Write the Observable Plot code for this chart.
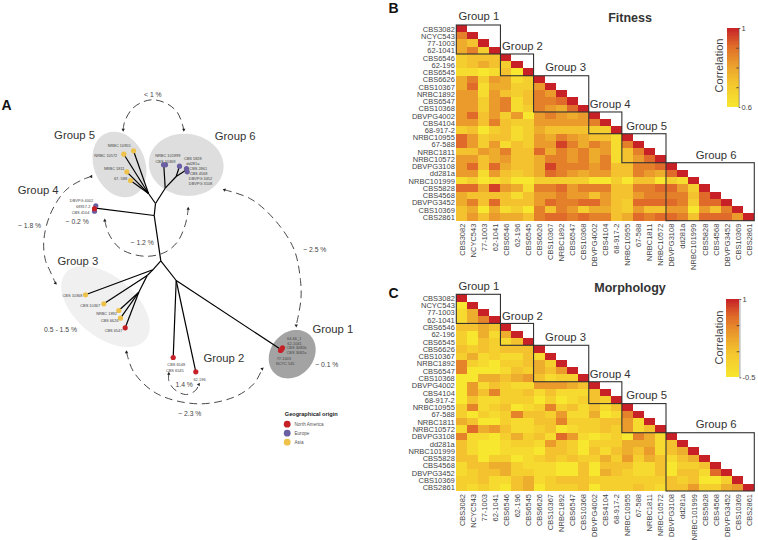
<!DOCTYPE html>
<html>
<head>
<meta charset="utf-8">
<script src="https://cdn.jsdelivr.net/npm/d3@7"></script>
<script src="https://cdn.jsdelivr.net/npm/@observablehq/plot@0.6"></script>
<style>
html,body{margin:0;padding:0;background:#fff}
#root{position:relative;width:758px;height:540px;overflow:hidden}
#root svg{position:absolute;background:transparent}
</style>
</head>
<body>
<div id="root"></div>
<script>
const FONT = "'Liberation Sans', Arial, sans-serif";
const strains = ["CBS3082","NCYC543","77-1003","62-1041","CBS6546","62-196","CBS6545","CBS6626","CBS10367","NRBC1892","CBS6547","CBS10368","DBVPG4002","CBS4104","68-917-2","NRBC10955","67-588","NRBC1811","NRBC10572","DBVPG3108","dd281a","NRBC101999","CBS5828","CBS4568","DBVPG3452","CBS10369","CBS2861"];
const groupNames = ["Group 1","Group 2","Group 3","Group 4","Group 5","Group 6"];
const groupSizes = [4,3,5,3,4,8];

// correlation x 100, lower triangle
const fitnessRows = [
[100],
[87,100],
[78,73,100],
[78,87,69,100],
[69,73,73,73,100],
[69,73,78,73,69,100],
[64,64,60,64,73,60,100],
[78,87,69,82,78,64,69,100],
[78,91,64,78,78,69,69,82,100],
[82,82,64,82,73,69,73,87,82,100],
[82,82,69,82,87,64,73,87,87,91,100],
[82,82,69,82,87,64,69,87,82,78,91,100],
[82,91,73,82,69,82,60,82,87,82,78,82,100],
[82,82,73,87,73,69,69,82,82,82,82,82,87,100],
[69,73,60,69,73,64,69,78,73,73,73,73,69,69,100],
[91,82,69,73,73,64,69,82,78,87,82,78,73,73,64,100],
[91,82,69,82,64,73,69,82,82,96,87,78,87,82,64,87,100],
[73,73,82,78,87,73,73,91,78,87,82,87,78,82,64,73,87,100],
[82,82,73,78,82,73,73,78,87,87,82,87,78,87,64,73,82,91,100],
[82,91,73,91,78,73,73,78,96,87,87,87,82,87,73,73,87,87,91,100],
[82,82,64,82,73,69,73,78,91,87,82,78,82,82,73,73,87,82,78,91,100],
[64,69,60,64,69,60,60,69,69,69,69,69,60,60,69,60,73,73,60,69,64,100],
[91,91,78,96,82,78,64,87,87,91,82,87,87,87,73,73,87,87,91,91,82,69,100],
[78,73,73,73,73,64,73,82,82,87,82,82,73,82,73,73,82,87,87,87,87,73,91,100],
[78,87,73,91,73,73,73,82,91,87,87,91,91,82,73,69,91,91,91,91,87,69,91,91,100],
[73,78,60,78,64,69,60,87,73,87,82,69,78,78,73,69,82,73,73,82,82,60,82,73,87,100],
[73,82,73,82,78,78,73,87,91,91,87,91,87,87,73,78,91,87,91,91,87,73,91,91,91,82,100]
];
const morphologyRows = [
[100],
[-50,100],
[-33,17,100],
[-33,17,50,100],
[0,0,17,0,100],
[-17,-50,17,-33,17,100],
[-17,-50,0,-17,-33,0,100],
[0,-17,0,-17,0,0,0,100],
[-17,17,-33,-17,-33,-33,0,-33,100],
[50,-17,-33,-50,-17,-17,0,17,-17,100],
[50,-50,-50,-50,-33,0,-17,17,0,33,100],
[-50,-50,17,17,0,17,33,0,-33,-17,-17,100],
[-50,33,-33,0,-17,-33,-33,33,33,33,17,0,100],
[-50,33,0,50,-17,-17,0,-33,0,-33,-33,-33,0,100],
[-50,0,-33,-33,-17,-17,-17,-50,-17,-50,-33,-17,0,-17,100],
[-17,50,-33,-17,0,-50,-33,-17,50,-17,0,-33,0,-33,0,100],
[-17,-50,-17,-33,-17,50,0,0,-17,33,-33,-33,17,-50,-33,50,100],
[17,0,-50,-50,-17,-33,-33,0,0,50,-17,-17,-17,0,0,33,-33,100],
[-33,67,17,33,0,-33,-33,-17,0,-50,-33,-17,-17,0,-17,33,-33,0,100],
[50,-33,-33,-50,-17,17,-17,0,-33,67,33,-33,-50,-33,-17,-50,50,17,-33,100],
[0,-33,-50,-50,-33,-17,-17,-33,33,0,-17,-50,-17,-17,-17,17,17,17,-33,0,100],
[0,-33,-50,-50,-33,-33,-33,-50,0,0,-17,-50,0,-33,0,17,0,33,-33,0,17,100],
[0,0,-50,-17,-17,-50,-33,-17,0,-17,0,-17,-17,17,-17,33,-17,17,0,-33,0,17,100],
[-33,0,0,17,17,-17,-33,-33,-33,-50,-50,0,-50,0,0,0,-33,-33,0,-50,-17,-17,0,100],
[-33,-17,0,0,17,-17,-17,-33,-33,-50,-50,0,-50,17,0,-17,-33,-33,0,-50,0,0,-33,67,100],
[-17,-17,0,-33,-33,0,17,-33,-17,0,0,0,-17,-17,-17,-17,-17,-17,-17,0,-17,0,-50,-50,-17,100],
[-17,-33,-17,-33,-50,0,17,-50,-17,-17,-17,0,-50,-17,-17,-17,0,-17,-33,0,0,33,-17,-17,17,33,100]
];

// Panel A: schematic tree, in the figure's own units
const branches = [
[155,203,148,193],[148,193,133,150.3],[148,193,123.3,153.7],[148,193,126.3,171.3],[148,193,130,180],
[155,203,164.7,187.7],[164.7,187.7,163.3,164.3],[164.7,187.7,175.7,176],[175.7,176,179,165.7],[175.7,176,186,169.3],[186,169.3,186.7,171.3],
[155,203,153.7,215],[153.7,215,160.3,260.3],[153.7,215,95,207.7],
[160.3,260.3,152.3,269.3],[152.3,269.3,85,294.3],[152.3,269.3,146.7,275],[146.7,275,103.3,303.3],[146.7,275,138.3,291.7],
[138.3,291.7,118.3,310],[138.3,291.7,120,317.7],[138.3,291.7,124.7,327.3],
[160.3,260.3,175.7,280],[175.7,280,172.7,357],[175.7,280,195.3,371.3],[175.7,280,279.3,348.3]
];
const tips = [
[133,150.3,"Asia"],[123.3,153.7,"Asia"],[126.3,171.3,"Asia"],[130,180,"Asia"],
[163,164.3,"Europe"],[165,164.3,"Europe"],[179,165.7,"Europe"],[186,168,"Europe"],[186.7,171.3,"Europe"],
[95.3,205.3,"Europe"],[94,210.7,"Europe"],[94,208.2,"North America"],
[85,294.3,"Asia"],[103.3,303.3,"Asia"],[118.3,310,"Asia"],[120,317.7,"Asia"],[124.7,327.3,"North America"],
[172.7,357,"North America"],[195.3,371.3,"North America"],
[282,347.3,"North America"],[280,350,"North America"],[281,349,"North America"]
];
const tipLabels = [
["NRBC 10955",118.7,145],["NRBC 10572",105.3,155.7],["NRBC 1811",113.7,168.7],["67- 588",120,178.3],
["NRBC 101999",167.3,155],["CBS 10369",165,161],["CBS 5828",192.3,158],["dd281a",192.3,163.3],["CBS 2861",197.7,168],["CBS 4568",198,173],["DBVPG 3452",200,178],["DBVPG 3108",200,183.3],
["DBVPG 4002",81,200.7],["68917-2",82.7,206.7],["CBS 4104",80,212],
["CBS 10368",72,295.7],["CBS 10367",89.7,305.7],["NRBC 1892",106,313.3],["CBS 6626",109,320.3],["CBS 6547",113,330],
["CBS 6548",175.7,364.7],["CBS 6545",174.3,370],["62-196",199,379.3],
["64-66_1",293.7,338.7],["62-1041",294,343],["CBS 3082b",296,347.7],["CBS 3082a",296,352],["77-1003",283.3,358.7],["NCYC 545",284.7,363]
];
const distanceLabels = [
["< 1 %",152.3,94],["~ 1.8 %",29,225.3],["~ 1.2 %",141.7,242],["~ 2.5 %",314.3,249.7],["0.5 - 1.5 %",60,329.3],["~ 0.1 %",326.3,364.7],["1.4 %",183.7,384.7],["~ 2.3 %",189.3,413.3],["~ 0.2 %",76.7,221.3]
];
const treeGroupLabels = [
["Group 1",332.3,329],["Group 2",223.3,358.3],["Group 3",77.3,261.3],["Group 4",37.7,189.7],["Group 5",74,134.7],["Group 6",234.7,135.7]
];
const hulls = [
{cx:119,cy:164,a:34,b:25.5,angle:67,fill:"#dddedd"},
{cx:185.7,cy:164.3,a:37.5,b:31,angle:8,fill:"#dddedd"},
{cx:105,cy:306,a:52,b:30,angle:40,fill:"#f0f0f0"},
{cx:291.7,cy:353.7,a:26,b:21.5,angle:-50,fill:"#a3a3a3"}
];
const arcs = [
[[122.7,129.3],[124,121.7],[131.7,108.3],[143.3,101],[153.3,99.3],[166.7,103.3],[176.7,111.7],[181.7,123.3],[183.3,129.3]],
[[90.7,176],[81.7,179.3],[65,190],[50,213.3],[43.3,240],[45,260],[49.3,270],[55,282.7]],
[[104.3,220],[108.3,233.3],[120,248.3],[143.3,255.7],[163.3,252.3],[176.7,241.7],[185,223.3],[187.7,208.3]],
[[224,189.3],[250,198.3],[273.3,218.3],[293.3,248.3],[300,280],[300.3,300],[295.7,325]],
[[126,351.7],[133.3,371.7],[156.7,393.3],[196.7,403.3],[233.3,396.7],[253.3,383.3],[261.7,368.3]],
[[168.3,373.3],[168.3,380],[173.3,388.3],[185,394],[195,390],[198.3,384]]
];
const arrowEnds = [
[122.7,129.3,180],[183.3,129.3,180],[90.7,176,-90],[55,282.7,135],[104.3,220,0],[187.7,208.3,0],[224,189.3,-70],[295.7,325,180],[126,351.7,0],[261.7,368.3,50],[168.3,373.3,0],[198.3,384,30]
];
const origins = ["North America","Europe","Asia"];
const originColors = ["#c62127","#6a5fa3","#eec24a"];
const legendX = 286.7, legendY = [423.7,432.7,441.7];

const root = document.getElementById("root");
function place(svg,left,top){ svg.style.left = left+"px"; svg.style.top = top+"px"; root.appendChild(svg); }

function ellipse(h){
  const t = h.angle*Math.PI/180;
  return d3.range(0,361,5).map(deg=>{
    const u = deg*Math.PI/180, ex = h.a*Math.cos(u), ey = h.b*Math.sin(u);
    return [h.cx+ex*Math.cos(t)-ey*Math.sin(t), h.cy+ex*Math.sin(t)+ey*Math.cos(t)];
  });
}
const txt = (rows,o)=>Plot.text(rows,{x:d=>d[1],y:d=>d[2],text:d=>d[0],...o});

const treeMarks = [
  ...hulls.map(h=>Plot.line(ellipse(h),{x:d=>d[0],y:d=>d[1],fill:h.fill,stroke:"none"})),
  ...arcs.map(a=>Plot.line(a,{x:d=>d[0],y:d=>d[1],curve:"catmull-rom",stroke:"#333",strokeWidth:0.9,strokeDasharray:"7,5.5"})),
  Plot.dot(arrowEnds,{x:d=>d[0],y:d=>d[1],rotate:d=>d[2],symbol:"triangle2",r:1.6,fill:"#222",stroke:"none"}),
  Plot.link(branches,{x1:d=>d[0],y1:d=>d[1],x2:d=>d[2],y2:d=>d[3],stroke:"#000",strokeWidth:1.2}),
  Plot.dot(tips,{x:d=>d[0],y:d=>d[1],r:2.6,fill:d=>originColors[origins.indexOf(d[2])],stroke:"none"}),
  txt(tipLabels,{fontSize:3.9,fill:"#444"}),
  txt(distanceLabels,{fontSize:6.8,fill:"#444"}),
  txt(treeGroupLabels,{fontSize:11.3,fill:"#333"}),
  Plot.text(["Geographical origin"],{x:[310.7],y:[413.3],fontSize:5.6,fontWeight:"bold",fill:"#222"}),
  Plot.dot(origins,{x:()=>legendX,y:(d,i)=>legendY[i],r:3.4,fill:(d,i)=>originColors[i],stroke:"none"}),
  Plot.text(origins,{x:()=>294,y:(d,i)=>legendY[i],textAnchor:"start",fontSize:4.6,fill:"#555"}),
  Plot.text(["A","B","C"],{x:[6,393,393],y:[105,8,293],fontSize:14,fontWeight:"bold",fill:"#111"}),
  Plot.text(["Fitness","Morphology"],{x:[629.5,629.5],y:[17.3,287],fontSize:12.5,fontWeight:"bold",fill:"#333"})
];
place(Plot.plot({
  width:758,height:540,margin:0,
  x:{domain:[0,758],range:[0,758],axis:null},
  y:{domain:[0,540],range:[0,540],axis:null},
  style:{fontFamily:FONT,background:"transparent"},
  marks:treeMarks
}),0,0);

const groupLabelX = [2,5.95,9.85,13.9,17.2,23.5];
function heatmap(rows,scale,frame,left,top,labelY){
  const cells = rows.flatMap((r,i)=>r.map((v,j)=>({row:i,col:j,v:v/100})));
  const offs = d3.cumsum([0,...groupSizes]);
  const boxes = groupSizes.map((n,i)=>({a:offs[i],b:offs[i]+n}));
  const ticks = strains.map((s,i)=>i+0.5);
  const name = d=>strains[Math.round(d-0.5)];
  const w = 758-left, h = frame.bottom-top+52;
  return Plot.plot({
    width:w,height:h,
    marginLeft:frame.left-left,marginRight:758-frame.right,marginTop:frame.top-top,marginBottom:h-(frame.bottom-top),
    x:{domain:[0,27],axis:null},
    y:{domain:[27,0],axis:null},
    color:{type:"linear",domain:scale.domain,range:scale.range},
    style:{fontFamily:FONT,background:"transparent"},
    marks:[
      Plot.rect(cells,{x1:"col",x2:d=>d.col+1,y1:"row",y2:d=>d.row+1,fill:"v",shapeRendering:"crispEdges"}),
      Plot.rect(boxes,{x1:"a",x2:"b",y1:"a",y2:"b",fill:"none",stroke:"#333",strokeWidth:1.1}),
      Plot.axisX({anchor:"bottom",ticks,tickFormat:name,tickRotate:-90,tickSize:0,tickPadding:2.5,fontSize:7.5,color:"#444",label:null}),
      Plot.axisY({anchor:"left",ticks,tickFormat:name,tickSize:0,tickPadding:2,fontSize:7.5,color:"#444",label:null}),
      Plot.text(groupNames,{x:(d,i)=>groupLabelX[i],y:(d,i)=>labelY[i],fontSize:11.3,fill:"#333"})
    ]
  });
}
const fitnessScale = {domain:[0.6,0.73,0.82,0.91,1],range:["#f7e72f","#f3c22e","#ea9b2c","#df6a29","#c72027"]};
const morphologyScale = {domain:[-0.5,0,0.33,0.67,1],range:["#f7e72f","#f3c22e","#ea9b2c","#df6a29","#c72027"]};

place(heatmap(fitnessRows,fitnessScale,{left:456.3,right:754.3,top:25,bottom:220.7},385,0,[-1.25,2.85,5.8,10.9,13.9,17.9]),385,0);
place(heatmap(morphologyRows,morphologyScale,{left:456.3,right:754.3,top:294.3,bottom:491},385,270,[-1.15,2.95,5.85,10.9,13.85,17.85]),385,270);

function colorbar(scale,barTicks,ends,barW,barH){
  const lo = ends[0], hi = ends[1];
  const steps = d3.range(0,60).map(i=>({y1:lo+(hi-lo)*i/60,y2:lo+(hi-lo)*(i+1)/60}));
  return Plot.plot({
    width:barW+19,height:barH+12,
    marginLeft:0,marginRight:19,marginTop:6,marginBottom:6,
    x:{domain:[0,1],axis:null},
    y:{domain:[lo,hi],axis:null},
    color:{type:"linear",domain:scale.domain,range:scale.range},
    style:{fontFamily:FONT,background:"transparent"},
    marks:[
      Plot.rect(steps,{x1:()=>0,x2:()=>1,y1:"y1",y2:"y2",fill:d=>(d.y1+d.y2)/2,shapeRendering:"crispEdges"}),
      Plot.ruleY(barTicks,{x1:()=>0.8,x2:()=>1,stroke:"#333",strokeWidth:0.8}),
      Plot.ruleY(ends,{x1:()=>1,x2:()=>1.14,stroke:"#333",strokeWidth:0.8}),
      Plot.ruleX([1],{stroke:"#555",strokeWidth:0.6}),
      Plot.text(ends,{x:()=>1.2,y:d=>d,text:d=>String(d),textAnchor:"start",fontSize:7.5,fill:"#444"})
    ]
  });
}
place(colorbar(fitnessScale,[0.7,0.8,0.9],[0.6,1],11.7,79),727.3,22.3);
place(colorbar(morphologyScale,[0,0.5],[-0.5,1],13.4,78.4),725.7,293.3);

// colour bar titles
for (const top of [15,287]) {
  place(Plot.plot({
    width:20,height:100,margin:0,
    x:{domain:[0,20],axis:null},y:{domain:[0,100],range:[0,100],axis:null},
    style:{fontFamily:FONT,background:"transparent"},
    marks:[Plot.text(["Correlation"],{x:[10],y:[50],rotate:-90,fontSize:11,fill:"#444"})]
  }),709,top);
}
</script>
</body>
</html>
